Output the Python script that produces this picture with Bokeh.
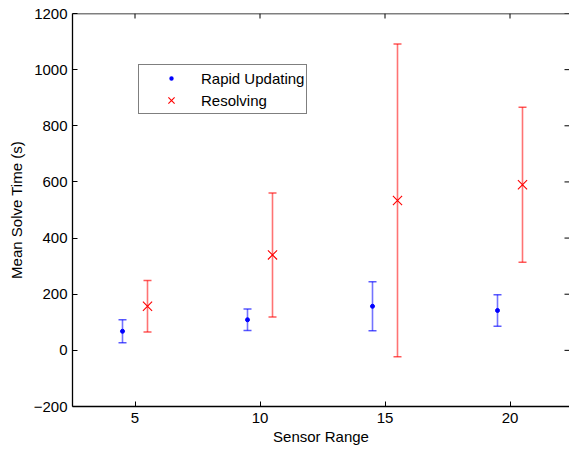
import numpy as np
from bokeh.plotting import figure
from bokeh.models import (ColumnDataSource, Whisker, TeeHead, Legend, LegendItem,
                          FixedTicker, Range1d, Span)
from bokeh.transform import dodge
from bokeh.embed import file_html
from bokeh.resources import INLINE

sensor_range = [5, 10, 15, 20]
rapid_mean = [68, 109, 157, 142]
rapid_err = [41, 38, 87, 56]
resolving_mean = [157, 340, 534, 590]
resolving_err = [92, 221, 557, 276]
x_ticks = [5, 10, 15, 20]
y_ticks = [-200, 0, 200, 400, 600, 800, 1000, 1200]

FONT = "Liberation Sans"
FS = "15px"
X_START, X_END = 2.5, 22.38
Y_START, Y_END = -200, 1200

p = figure(width=569, height=451, output_backend="svg", toolbar_location=None,
           x_range=Range1d(X_START, X_END), y_range=Range1d(Y_START, Y_END),
           min_border_left=72, min_border_right=0, min_border_top=13,
           min_border_bottom=45)
p.outline_line_color = None
p.grid.visible = False
p.background_fill_color = "white"
p.border_fill_color = "white"

def style_axis(ax, ticks):
    ax.ticker = FixedTicker(ticks=ticks)
    ax.major_tick_in = 5
    ax.major_tick_out = 0
    ax.minor_tick_line_color = None
    ax.major_tick_line_color = "black"
    ax.major_tick_line_width = 1
    ax.axis_line_color = "black"
    ax.axis_line_width = 1.3
    ax.major_label_text_font = FONT
    ax.major_label_text_font_size = FS
    ax.major_label_text_color = "black"
    ax.axis_label_text_font = FONT
    ax.axis_label_text_font_size = FS
    ax.axis_label_text_font_style = "normal"
    ax.axis_label_text_color = "black"

style_axis(p.xaxis[0], x_ticks)
style_axis(p.yaxis[0], y_ticks)
p.xaxis[0].axis_label = "Sensor Range"
p.xaxis[0].major_label_standoff = 6
p.xaxis[0].axis_label_standoff = 2
p.yaxis[0].axis_label = "Mean Solve Time (s)"
p.yaxis[0].major_label_standoff = 5
p.yaxis[0].axis_label_standoff = 6

# box top line and inward ticks on top / right sides (MATLAB style box)
p.add_layout(Span(location=Y_END, dimension="width", line_color="black", line_width=1.3))
p.ray(x=x_ticks, y=Y_END, length=5, length_units="screen", angle=-90,
      angle_units="deg", line_color="black", line_width=1)
p.ray(x=X_END, y=y_ticks, length=5, length_units="screen", angle=180,
      angle_units="deg", line_color="black", line_width=1)

rm = np.array(rapid_mean, dtype=float)
re_ = np.array(rapid_err, dtype=float)
sm = np.array(resolving_mean, dtype=float)
se = np.array(resolving_err, dtype=float)

src_r = ColumnDataSource(dict(x=sensor_range, y=rm, upper=rm + re_, lower=rm - re_))
src_s = ColumnDataSource(dict(x=sensor_range, y=sm, upper=sm + se, lower=sm - se))

for src, col, off in ((src_r, "#0000ff", -0.5), (src_s, "#ff0000", 0.5)):
    w = Whisker(source=src, base=dodge("x", off, range=p.x_range),
                upper="upper", lower="lower",
                line_color=col, line_alpha=0.55, line_width=1.6,
                upper_head=TeeHead(size=8, line_color=col, line_alpha=0.65, line_width=1.5),
                lower_head=TeeHead(size=8, line_color=col, line_alpha=0.65, line_width=1.5))
    p.add_layout(w)

r1 = p.scatter(x=dodge("x", -0.5, range=p.x_range), y="y", source=src_r,
               marker="circle", size=4, fill_color="#0000ff", line_color="#0000ff")
r2 = p.scatter(x=dodge("x", 0.5, range=p.x_range), y="y", source=src_s,
               marker="x", size=13, line_color="#ff0000", line_width=1.1)

# legend-only glyph (hidden in the plot): small blue dot
r1_leg = p.scatter(x=dodge("x", -0.5, range=p.x_range), y="y", source=src_r,
                   marker="circle", fill_color="#0000ff",
                   line_color="white", line_width=4.4, visible=False)

legend = Legend(items=[LegendItem(label="Rapid Updating", renderers=[r1_leg]),
                       LegendItem(label="Resolving", renderers=[r2])],
                location=(66, 292), padding=2, spacing=0, margin=0,
                glyph_width=60, glyph_height=22, label_standoff=0,
                label_text_font=FONT, label_text_font_size=FS,
                label_text_color="black", label_height=22,
                inactive_fill_alpha=0,
                border_line_color="black", border_line_width=1.5,
                background_fill_color="white", background_fill_alpha=1)
p.add_layout(legend, "center")

open("out.html", "w").write(file_html(p, INLINE))
